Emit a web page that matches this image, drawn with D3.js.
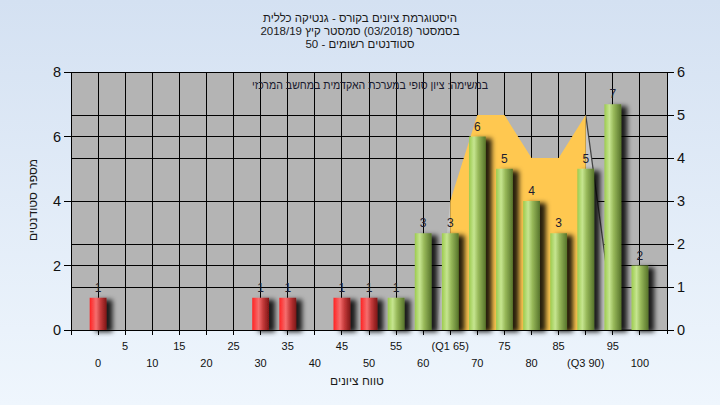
<!DOCTYPE html>
<html><head><meta charset="utf-8">
<script src="https://cdn.jsdelivr.net/npm/d3@7"></script>
<style>html,body{margin:0;padding:0;overflow:hidden;} text{font-family:"Liberation Sans",Arial,sans-serif;}</style>
</head><body>
<svg id="chart" width="720" height="405"></svg>
<script>
// ---- data ----
const categories = [0,5,10,15,20,25,30,35,40,45,50,55,60,65,70,75,80,85,90,95,100];
const counts     = [1,0,0,0,0,0,1,1,0,1,1,1,3,3,6,5,4,3,5,7,2];
const tickLabels = ["0","5","10","15","20","25","30","35","40","45","50","55","60","(Q1 65)","70","75","80","85","(Q3 90)","95","100"];
const passMark = 55;
const iqrCats   = [65,70,75,80,85,90];
const iqrValues = [3,5,5,4,4,5];          // right axis
const shadeLeft  = [[62.5,0],[65,3]];      // right axis
const shadeRight = [[90,5],[95.4,0],[100,0]];
const leftTicks  = [0,2,4,6,8];
const rightTicks = [0,1,2,3,4,5,6];
const titleLines = ["היסטוגרמת ציונים בקורס - גנטיקה כללית","בסמסטר  (03/2018)  סמסטר קיץ  2018/19","סטודנטים רשומים - 50"];
const subTitle = "במשימה: ציון סופי במערכת האקדמית במחשב המרכזי";
const xTitle = "טווח ציונים";
const yTitle = "מספר סטודנטים";

// ---- layout ----
const L = 71, R = 667, T = 72, B = 330;
const svg = d3.select("#chart");
const defs = svg.append("defs");
const bg = defs.append("linearGradient").attr("id","bg").attr("x1",0).attr("y1",0).attr("x2",0).attr("y2",1);
bg.append("stop").attr("offset","0%").attr("stop-color","#d4e1f2");
bg.append("stop").attr("offset","100%").attr("stop-color","#eff6fd");
function hGrad(id, stops){
  const g = defs.append("linearGradient").attr("id",id).attr("x1",0).attr("y1",0).attr("x2",1).attr("y2",0);
  stops.forEach(s=>g.append("stop").attr("offset",s[0]).attr("stop-color",s[1]));
}
hGrad("gGreen",[["0%","#9ccb4e"],["30%","#c6e590"],["55%","#98b95a"],["100%","#57742b"]]);
hGrad("gRed",[["0%","#ff2222"],["38%","#f56e6e"],["65%","#c43a3a"],["100%","#7e1616"]]);
const f = defs.append("filter").attr("id","shadow").attr("x","-20%").attr("y","-10%").attr("width","190%").attr("height","130%");
f.append("feDropShadow").attr("dx",6).attr("dy",2).attr("stdDeviation",2.6).attr("flood-color","#000").attr("flood-opacity",0.85);

svg.append("rect").attr("width",720).attr("height",405).attr("fill","url(#bg)");

const x = d3.scaleLinear().domain([-5,105]).range([L,R]);
const yL = d3.scaleLinear().domain([0,8]).range([B,T]);
const yR = d3.scaleLinear().domain([0,6]).range([B,T]);

svg.append("rect").attr("x",L).attr("y",T).attr("width",R-L).attr("height",B-T).attr("fill","#b4b4b4");

// grid
const grid = svg.append("g").attr("stroke","#000").attr("stroke-width",1).attr("shape-rendering","crispEdges");
grid.selectAll(".hl").data(leftTicks).join("line").attr("x1",L).attr("x2",R).attr("y1",d=>yL(d)).attr("y2",d=>yL(d));
grid.selectAll(".hr").data(rightTicks).join("line").attr("class","hr").attr("x1",L).attr("x2",R).attr("y1",d=>yR(d)).attr("y2",d=>yR(d));
grid.selectAll(".v").data(categories).join("line").attr("class","v").attr("x1",d=>x(d)).attr("x2",d=>x(d)).attr("y1",T).attr("y2",B);

// IQR area
svg.append("path").attr("fill","#c6c6c6")
  .attr("d",d3.area().x(d=>x(d[0])).y0(yR(0)).y1(d=>yR(d[1]))(shadeLeft));
svg.append("path").attr("fill","#c6c6c6")
  .attr("d",d3.area().x(d=>x(d[0])).y0(yR(0)).y1(d=>yR(d[1]))(shadeRight.slice(0,2)));
svg.append("path").attr("fill","none").attr("stroke","#444").attr("stroke-width",1.3)
  .attr("d",d3.line().x(d=>x(d[0])).y(d=>yR(d[1]))(shadeRight));
const iqr = iqrCats.map((c,i)=>[c,iqrValues[i]]);
svg.append("path").attr("fill","#ffc850")
  .attr("d",d3.area().x(d=>x(d[0])).y0(yR(0)).y1(d=>yR(d[1]))(iqr));

// subtitle
svg.append("text").attr("x",370).attr("y",89).attr("text-anchor","middle").attr("font-size",11.5)
  .attr("textLength",236).attr("lengthAdjust","spacingAndGlyphs").attr("fill","#1a1a2e").text(subTitle);

// bars
const bw = 16.8;
const data = categories.map((c,i)=>({c, v:counts[i]})).filter(d=>d.v>0);
svg.append("g").selectAll("rect").data(data).join("rect")
  .attr("x",d=>x(d.c)-bw/2).attr("width",bw)
  .attr("y",d=>yL(d.v)).attr("height",d=>B-yL(d.v))
  .attr("fill",d=>d.c>=passMark?"url(#gGreen)":"url(#gRed)")
  .attr("filter","url(#shadow)");
svg.append("g").selectAll("text").data(data).join("text")
  .attr("x",d=>x(d.c)).attr("y",d=>yL(d.v)-6).attr("text-anchor","middle")
  .attr("font-size",12).attr("fill","#1c1c30").text(d=>d.v);

// plot border/axes
const ax = svg.append("g").attr("stroke","#000").attr("stroke-width",1).attr("shape-rendering","crispEdges");
ax.append("line").attr("x1",L).attr("x2",L).attr("y1",T).attr("y2",B+4);
ax.append("line").attr("x1",R).attr("x2",R).attr("y1",T).attr("y2",B+4);
ax.append("line").attr("x1",L-6).attr("x2",R+7).attr("y1",B).attr("y2",B);
ax.selectAll(".lt").data(leftTicks).join("line").attr("class","lt").attr("x1",L-7).attr("x2",L).attr("y1",d=>yL(d)).attr("y2",d=>yL(d));
ax.selectAll(".rt").data(rightTicks).join("line").attr("class","rt").attr("x1",R).attr("x2",R+7).attr("y1",d=>yR(d)).attr("y2",d=>yR(d));
ax.selectAll(".bt").data([-5].concat(categories)).join("line").attr("class","bt").attr("x1",d=>x(d)).attr("x2",d=>x(d)).attr("y1",B).attr("y2",B+5);

svg.append("g").selectAll("text").data(leftTicks).join("text")
  .attr("x",61).attr("y",d=>yL(d)+5).attr("text-anchor","end").attr("font-size",14.5).attr("fill","#111").text(d=>d);
svg.append("g").selectAll("text").data(rightTicks).join("text")
  .attr("x",677).attr("y",d=>yR(d)+5).attr("text-anchor","start").attr("font-size",14.5).attr("fill","#111").text(d=>d);

svg.append("g").selectAll("text").data(categories).join("text")
  .attr("x",d=>x(d)).attr("y",(d,i)=>i%2===1?349.5:366.5).attr("text-anchor","middle")
  .attr("font-size",11).attr("fill","#111").text((d,i)=>tickLabels[i]);

// titles
svg.append("g").selectAll("text").data(titleLines).join("text")
  .attr("x",360).attr("y",(d,i)=>22+i*13).attr("text-anchor","middle").attr("font-size",11.5).attr("fill","#1a1a1a").text(d=>d);
svg.append("text").attr("x",357).attr("y",385).attr("text-anchor","middle").attr("font-size",12).attr("fill","#1a1a1a").text(xTitle);
svg.append("text").attr("transform","translate(37,200) rotate(-90)").attr("text-anchor","middle").attr("font-size",12).attr("fill","#1a1a1a").text(yTitle);
</script>
</body></html>
